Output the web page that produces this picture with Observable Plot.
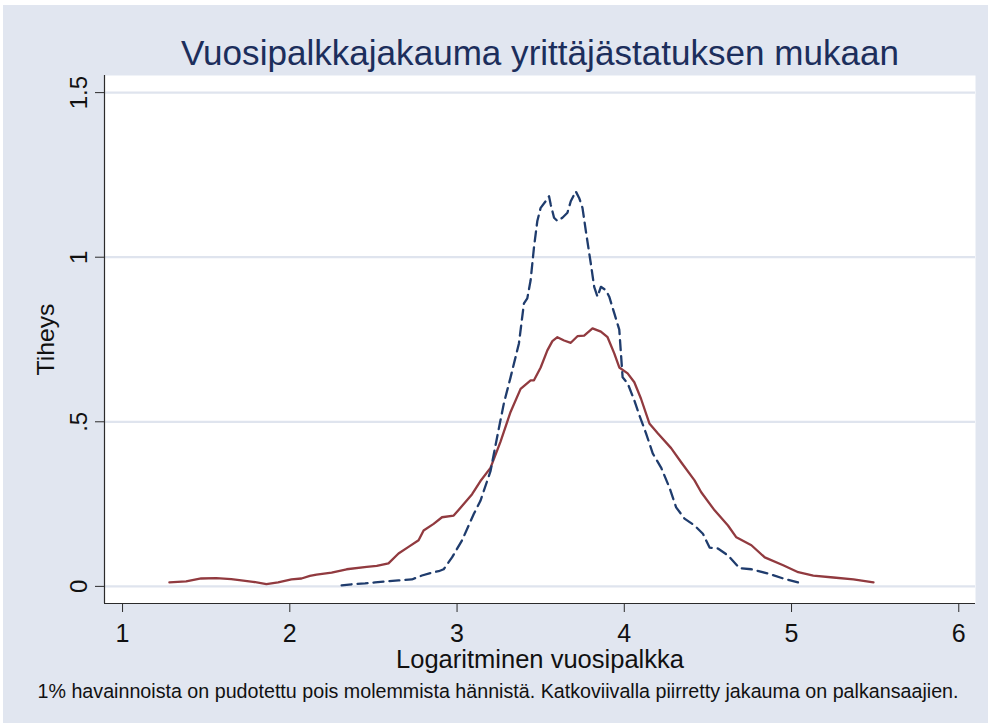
<!DOCTYPE html>
<html>
<head>
<meta charset="utf-8">
<script src="https://cdn.jsdelivr.net/npm/d3@7"></script>
<script src="https://cdn.jsdelivr.net/npm/@observablehq/plot@0.6"></script>
<style>
  html, body { margin: 0; padding: 0; background: #ffffff; }
  #chart { position: absolute; left: 0; top: 0; }
  #chart svg { box-shadow: inset 3px 5px 0 #ffffff; }
</style>
</head>
<body>
<div id="chart"></div>
<script>
// Text
const titleText = "Vuosipalkkajakauma yrittäjästatuksen mukaan";
const xLabel = "Logaritminen vuosipalkka";
const yLabel = "Tiheys";
const captionText = "1% havainnoista on pudotettu pois molemmista hännistä. Katkoviivalla piirretty jakauma on palkansaajien.";

// Ticks
const xTicks = [1, 2, 3, 4, 5, 6];
const yTicks = [0, 0.5, 1, 1.5];
const yTickLabels = ["0", ".5", "1", "1.5"];

// Entrepreneurs (solid)
const entX = [1.28,1.38,1.47,1.56,1.65,1.71,1.78,1.86,1.93,2.01,2.07,2.12,2.16,2.25,2.34,2.46,2.52,2.59,2.65,2.71,2.77,2.80,2.86,2.91,2.98,3.04,3.09,3.14,3.20,3.26,3.32,3.38,3.44,3.46,3.50,3.54,3.57,3.60,3.64,3.68,3.72,3.76,3.81,3.86,3.90,3.94,3.97,4.02,4.06,4.10,4.15,4.20,4.28,4.34,4.42,4.46,4.54,4.62,4.67,4.76,4.84,4.95,5.04,5.13,5.25,5.37,5.49];
const entY = [0.012,0.015,0.024,0.025,0.022,0.018,0.014,0.007,0.012,0.021,0.024,0.032,0.036,0.042,0.052,0.059,0.062,0.070,0.100,0.120,0.140,0.170,0.190,0.210,0.215,0.250,0.280,0.320,0.360,0.440,0.530,0.600,0.626,0.626,0.665,0.717,0.745,0.757,0.747,0.740,0.760,0.762,0.784,0.774,0.757,0.708,0.665,0.647,0.620,0.570,0.495,0.465,0.420,0.377,0.322,0.286,0.231,0.185,0.149,0.125,0.088,0.064,0.043,0.033,0.027,0.021,0.012];

// Wage earners (dashed)
const wageX = [2.31,2.38,2.45,2.51,2.57,2.65,2.73,2.79,2.85,2.89,2.92,2.97,3.03,3.10,3.14,3.20,3.25,3.28,3.32,3.37,3.40,3.42,3.44,3.46,3.48,3.50,3.53,3.55,3.56,3.58,3.60,3.63,3.66,3.68,3.71,3.73,3.75,3.77,3.80,3.82,3.84,3.86,3.89,3.91,3.94,3.97,3.99,4.02,4.06,4.09,4.13,4.17,4.22,4.27,4.31,4.36,4.42,4.47,4.51,4.56,4.62,4.69,4.76,4.86,4.95,5.04];
const wageY = [0.003,0.007,0.009,0.012,0.015,0.018,0.021,0.033,0.042,0.046,0.052,0.088,0.140,0.220,0.260,0.350,0.480,0.556,0.635,0.738,0.860,0.875,0.930,1.030,1.110,1.150,1.170,1.185,1.160,1.120,1.110,1.120,1.135,1.170,1.200,1.180,1.150,1.080,0.980,0.910,0.880,0.910,0.900,0.880,0.830,0.780,0.635,0.617,0.565,0.520,0.465,0.404,0.361,0.300,0.240,0.206,0.185,0.160,0.118,0.115,0.094,0.055,0.052,0.039,0.024,0.012];

const ent = entX.map((x, i) => ({x, y: entY[i]}));
const wage = wageX.map((x, i) => ({x, y: wageY[i]}));

const xDomain = [0.892, 6.1];
const yDomain = [-0.052, 1.552];
const font = "'Liberation Sans', Arial, Helvetica, sans-serif";
const axisColor = "#2b2b2b";
const textColor = "#111111";

const chart = Plot.plot({
  width: 988,
  height: 723,
  marginLeft: 104,
  marginRight: 13,
  marginTop: 75,
  marginBottom: 120,
  style: {background: "#e1e6f0", fontFamily: font, color: textColor},
  x: {domain: xDomain, axis: null},
  y: {domain: yDomain, axis: null},
  marks: [
    Plot.frame({fill: "white", stroke: null}),
    Plot.gridY(yTicks, {stroke: "#dfe4ee", strokeOpacity: 1, strokeWidth: 2.2}),
    Plot.ruleX([xDomain[0]], {stroke: axisColor, strokeWidth: 1.2}),
    Plot.ruleY([yDomain[0]], {stroke: axisColor, strokeWidth: 1.2}),
    Plot.axisY({ticks: yTicks, tickSize: 9, tickFormat: () => "", label: null, stroke: axisColor}),
    Plot.text(yTicks, {y: d => d, text: (d, i) => yTickLabels[i], frameAnchor: "left", textAnchor: "middle", dx: -25, rotate: -90, fontSize: 24, fill: textColor}),
    Plot.axisX({ticks: xTicks, tickSize: 9, tickPadding: 12, fontSize: 25, label: null, stroke: axisColor, fill: textColor, tickFormat: d => String(d)}),
    Plot.line(ent, {x: "x", y: "y", stroke: "#913a3f", strokeWidth: 2.3, curve: "linear"}),
    Plot.line(wage, {x: "x", y: "y", stroke: "#1f3c6d", strokeWidth: 2.3, strokeDasharray: "10,6", curve: "linear"}),
    Plot.text([titleText], {frameAnchor: "top", dy: -11, lineAnchor: "bottom", fontSize: 35, fill: "#1c2e5c"}),
    Plot.text([xLabel], {frameAnchor: "bottom", dy: 64, lineAnchor: "bottom", fontSize: 25.5, fill: textColor}),
    Plot.text([yLabel], {frameAnchor: "left", textAnchor: "middle", dx: -58, rotate: -90, lineAnchor: "middle", fontSize: 24.5, fill: textColor}),
    Plot.text([captionText], {frameAnchor: "bottom", dx: -42, dy: 94, lineAnchor: "bottom", fontSize: 19.7, fill: textColor})
  ]
});

const fit = (content, len) => {
  d3.select(chart).selectAll("text")
    .filter(function() { return this.textContent === content; })
    .attr("textLength", len)
    .attr("lengthAdjust", "spacingAndGlyphs");
};
fit(titleText, 718);
fit(xLabel, 288);
fit(yLabel, 72);
fit(captionText, 921);

document.getElementById("chart").appendChild(chart);
</script>
</body>
</html>
